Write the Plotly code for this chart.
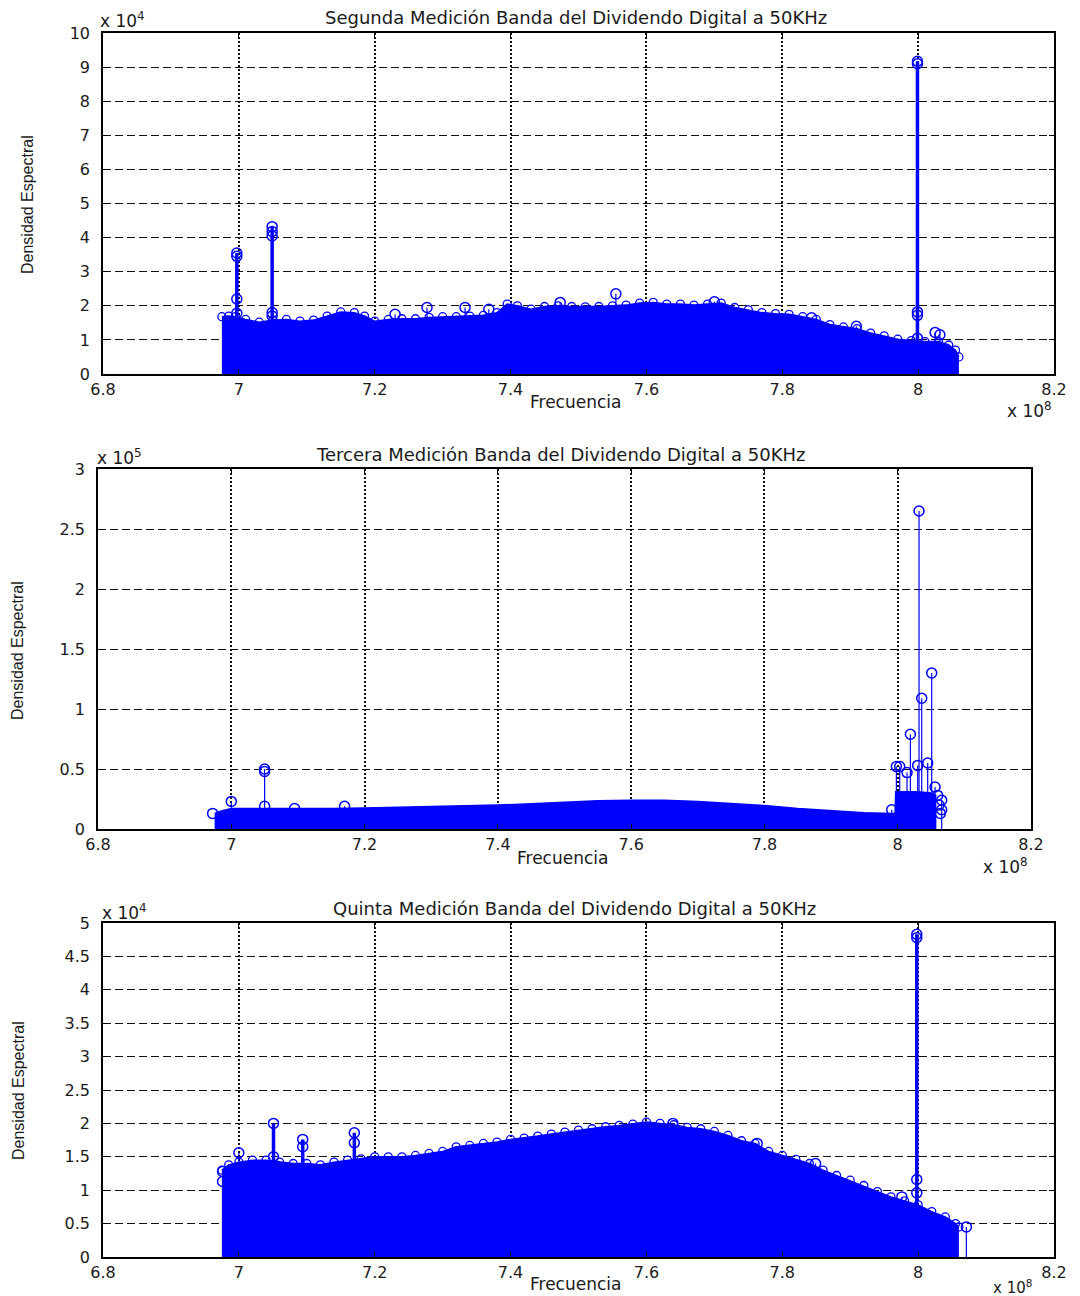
import plotly.graph_objects as go

BLUE = "#0000ff"
W, H = 1080, 1296

# ---------------- Data (frequency in units of 1e8 Hz) ----------------
# Panel 1: Segunda Medición (density in units of 1e4)
p1_freq = [6.975, 6.985, 6.995, 7.01, 7.03, 7.05, 7.07, 7.09, 7.11, 7.13, 7.15, 7.17, 7.185,
           7.2, 7.22, 7.24, 7.26, 7.28, 7.30, 7.32, 7.34, 7.36, 7.38, 7.395, 7.41, 7.43, 7.45,
           7.47, 7.49, 7.51, 7.53, 7.55, 7.57, 7.59, 7.61, 7.63, 7.65, 7.67, 7.69, 7.71, 7.73,
           7.75, 7.77, 7.79, 7.81, 7.83, 7.85, 7.87, 7.89, 7.91, 7.93, 7.95, 7.97, 7.99, 8.01,
           8.03, 8.045, 8.055, 8.06]
p1_dens = [1.68, 1.70, 1.68, 1.60, 1.52, 1.58, 1.60, 1.55, 1.58, 1.70, 1.82, 1.80, 1.70,
           1.55, 1.60, 1.62, 1.62, 1.66, 1.68, 1.68, 1.70, 1.72, 1.80, 2.05, 2.00, 1.90, 1.98,
           2.00, 1.98, 1.97, 1.98, 2.00, 2.02, 2.08, 2.10, 2.05, 2.05, 2.02, 2.05, 2.08, 1.95,
           1.88, 1.80, 1.77, 1.75, 1.68, 1.60, 1.45, 1.38, 1.33, 1.20, 1.12, 1.02, 0.98, 0.95,
           0.95, 0.85, 0.70, 0.50]
p1_major_freq = [6.997, 7.049, 7.999]
p1_major_peak = [3.55, 4.32, 9.17]
p1_minor_freq = [7.23, 7.277, 7.333, 7.368, 7.473, 7.555, 7.70, 7.843, 7.909, 8.025, 8.032]
p1_minor_peak = [1.75, 1.95, 1.95, 1.90, 2.10, 2.35, 2.12, 1.65, 1.40, 1.22, 1.15]
p1_extra_freq = [6.997, 6.997, 6.997, 7.049, 7.049, 7.049, 7.049, 7.999, 7.999, 7.999, 7.999]
p1_extra_val = [3.45, 2.20, 1.78, 4.18, 4.05, 1.80, 1.70, 9.10, 1.82, 1.72, 1.05]

# Panel 2: Tercera Medición (density in units of 1e5)
p2_freq = [6.975, 6.985, 7.0, 7.05, 7.1, 7.15, 7.2, 7.25, 7.3, 7.35, 7.4, 7.45, 7.5, 7.55,
           7.6, 7.65, 7.7, 7.75, 7.78, 7.8, 7.85, 7.9, 7.95, 7.99, 7.996, 7.997, 8.01, 8.03,
           8.05, 8.058]
p2_dens = [0.13, 0.15, 0.17, 0.17, 0.165, 0.17, 0.175, 0.18, 0.185, 0.19, 0.20, 0.21, 0.225,
           0.235, 0.24, 0.24, 0.23, 0.215, 0.20, 0.195, 0.17, 0.155, 0.135, 0.13, 0.13, 0.31,
           0.31, 0.31, 0.30, 0.28]
p2_major_freq = [7.05, 8.019, 8.032, 8.036, 8.051]
p2_major_peak = [0.50, 0.79, 2.65, 1.09, 1.30]
p2_minor_freq = [7.0, 7.095, 7.17, 7.991, 7.998, 8.003, 8.014, 8.03, 8.045, 8.056, 8.066]
p2_minor_peak = [0.23, 0.17, 0.19, 0.16, 0.52, 0.52, 0.47, 0.53, 0.55, 0.35, 0.24]
p2_extra_freq = [7.05, 7.05, 8.066, 8.060, 8.062, 8.064, 6.972]
p2_extra_val = [0.48, 0.19, 0.16, 0.28, 0.20, 0.13, 0.13]

# Panel 3: Quinta Medición (density in units of 1e4)
p3_freq = [6.975, 6.985, 7.0, 7.02, 7.04, 7.06, 7.08, 7.1, 7.12, 7.14, 7.16, 7.18, 7.2, 7.22,
           7.24, 7.26, 7.28, 7.30, 7.32, 7.34, 7.36, 7.38, 7.40, 7.42, 7.44, 7.46, 7.48, 7.50,
           7.52, 7.54, 7.56, 7.58, 7.60, 7.62, 7.64, 7.66, 7.68, 7.70, 7.72, 7.74, 7.76, 7.78,
           7.80, 7.82, 7.84, 7.86, 7.88, 7.90, 7.92, 7.94, 7.96, 7.98, 8.0, 8.02, 8.04, 8.055,
           8.06]
p3_dens = [1.30, 1.38, 1.42, 1.45, 1.45, 1.42, 1.40, 1.40, 1.38, 1.42, 1.45, 1.47, 1.50, 1.50,
           1.50, 1.52, 1.55, 1.58, 1.65, 1.67, 1.70, 1.72, 1.76, 1.78, 1.81, 1.84, 1.87, 1.90,
           1.92, 1.95, 1.97, 1.99, 2.02, 2.00, 1.98, 1.94, 1.92, 1.88, 1.82, 1.74, 1.70, 1.58,
           1.52, 1.46, 1.40, 1.30, 1.22, 1.15, 1.07, 0.98, 0.90, 0.84, 0.78, 0.68, 0.60, 0.50,
           0.45]
p3_major_freq = [7.051, 7.094, 7.17, 7.998]
p3_major_peak = [2.00, 1.76, 1.86, 4.83]
p3_minor_freq = [7.0, 7.639, 7.763, 7.849, 7.976, 8.071]
p3_minor_peak = [1.56, 2.00, 1.70, 1.40, 0.90, 0.45]
p3_extra_freq = [7.051, 7.094, 7.17, 7.998, 7.998, 7.998, 6.976, 6.976]
p3_extra_val = [1.50, 1.65, 1.71, 4.78, 1.16, 0.96, 1.28, 1.13]

x_ticks = [6.8, 7.0, 7.2, 7.4, 7.6, 7.8, 8.0, 8.2]
x_ticktext = ["6.8", "7", "7.2", "7.4", "7.6", "7.8", "8", "8.2"]
p1_yticks = [0, 1, 2, 3, 4, 5, 6, 7, 8, 9, 10]
p1_yticktext = ["0", "1", "2", "3", "4", "5", "6", "7", "8", "9", "10"]
p2_yticks = [0, 0.5, 1, 1.5, 2, 2.5, 3]
p2_yticktext = ["0", "0.5", "1", "1.5", "2", "2.5", "3"]
p3_yticks = [0, 0.5, 1, 1.5, 2, 2.5, 3, 3.5, 4, 4.5, 5]
p3_yticktext = ["0", "0.5", "1", "1.5", "2", "2.5", "3", "3.5", "4", "4.5", "5"]

titles = ["Segunda Medición Banda del Dividendo Digital a 50KHz",
          "Tercera Medición Banda del Dividendo Digital a 50KHz",
          "Quinta Medición Banda del Dividendo Digital a 50KHz"]
y_exponents = ["4", "5", "4"]
x_label = "Frecuencia"
y_label = "Densidad Espectral"

# ---------------- Layout geometry (pixels) ----------------
boxes = [  # left, right, top, bottom
    (103, 1054, 33, 374),
    (98, 1031, 469, 829),
    (103, 1054, 923, 1257),
]
env_marker_size = [8, 0, 8]


def px(x):
    return x / W


def py(y):
    return 1 - y / H


def stems(freqs, peaks):
    xs, ys = [], []
    for f, p in zip(freqs, peaks):
        xs += [f, f, None]
        ys += [0, p, None]
    return xs, ys


fig = go.Figure()

panels = [
    (p1_freq, p1_dens, p1_major_freq, p1_major_peak, p1_minor_freq, p1_minor_peak,
     p1_extra_freq, p1_extra_val, 3.5),
    (p2_freq, p2_dens, p2_major_freq, p2_major_peak, p2_minor_freq, p2_minor_peak,
     p2_extra_freq, p2_extra_val, 1.2),
    (p3_freq, p3_dens, p3_major_freq, p3_major_peak, p3_minor_freq, p3_minor_peak,
     p3_extra_freq, p3_extra_val, 3.5),
]

for i, (ef, ed, mf, mp, nf, npk, xf, xv, mw) in enumerate(panels):
    xa = "x" if i == 0 else f"x{i+1}"
    ya = "y" if i == 0 else f"y{i+1}"
    # dense stem body
    fig.add_trace(go.Scatter(x=ef, y=ed, mode="lines", fill="tozeroy", fillcolor=BLUE,
                             line=dict(color=BLUE, width=1.5), xaxis=xa, yaxis=ya,
                             showlegend=False, hoverinfo="skip"))
    if env_marker_size[i] > 0:
        fig.add_trace(go.Scatter(x=ef, y=ed, mode="markers",
                                 marker=dict(symbol="circle-open", size=env_marker_size[i],
                                             color=BLUE, line=dict(width=1.3, color=BLUE)),
                                 xaxis=xa, yaxis=ya, showlegend=False, hoverinfo="skip"))
    # minor stems
    sx, sy = stems(nf, npk)
    fig.add_trace(go.Scatter(x=sx, y=sy, mode="lines", line=dict(color=BLUE, width=1.2),
                             xaxis=xa, yaxis=ya, showlegend=False, hoverinfo="skip"))
    # major stems
    sx, sy = stems(mf, mp)
    fig.add_trace(go.Scatter(x=sx, y=sy, mode="lines", line=dict(color=BLUE, width=mw),
                             xaxis=xa, yaxis=ya, showlegend=False, hoverinfo="skip"))
    # stem head markers
    fig.add_trace(go.Scatter(x=list(mf) + list(nf) + list(xf), y=list(mp) + list(npk) + list(xv),
                             mode="markers",
                             marker=dict(symbol="circle-open", size=10, color=BLUE,
                                         line=dict(width=1.5, color=BLUE)),
                             xaxis=xa, yaxis=ya, showlegend=False, hoverinfo="skip"))

tick_font = dict(family="DejaVu Sans, Arial, sans-serif", size=16, color="#1a1a1a")
ytick_sets = [(p1_yticks, p1_yticktext, [0, 10]),
              (p2_yticks, p2_yticktext, [0, 3]),
              (p3_yticks, p3_yticktext, [0, 5])]

layout = dict(width=W, height=H, margin=dict(l=0, r=0, t=0, b=0, autoexpand=False),
              paper_bgcolor="white", plot_bgcolor="white", showlegend=False)

for i, (l, r, t, b) in enumerate(boxes):
    xk = "xaxis" if i == 0 else f"xaxis{i+1}"
    yk = "yaxis" if i == 0 else f"yaxis{i+1}"
    ya = "y" if i == 0 else f"y{i+1}"
    xa = "x" if i == 0 else f"x{i+1}"
    tv, tt, yr = ytick_sets[i]
    layout[xk] = dict(domain=[px(l), px(r)], anchor=ya, range=[6.8, 8.2], automargin=False,
                      tickvals=x_ticks, ticktext=x_ticktext, tickfont=tick_font,
                      ticks="inside", ticklen=5, tickcolor="black",
                      showline=True, linecolor="black", linewidth=1.5, mirror="ticks",
                      showgrid=True, gridcolor="#111111", gridwidth=2, griddash="2px,2px",
                      zeroline=False, ticklabelstandoff=0)
    layout[yk] = dict(domain=[py(b), py(t)], anchor=xa, range=yr, automargin=False,
                      tickvals=tv, ticktext=tt, tickfont=tick_font,
                      ticks="inside", ticklen=5, tickcolor="black",
                      showline=True, linecolor="black", linewidth=1.5, mirror="ticks",
                      showgrid=True, gridcolor="#111111", gridwidth=1.2, griddash="8px,4px",
                      zeroline=False, ticklabelstandoff=8)

fig.update_layout(**layout)

ann_font = dict(family="DejaVu Sans, Arial, sans-serif", size=17, color="#1a1a1a")
ylab_font = dict(family="Liberation Sans Narrow, Liberation Sans, Arial, sans-serif",
                 size=16, color="#1a1a1a")
title_pos = [(576, 18), (561, 454), (574, 909)]
yexp_pos = [(98, 20), (95, 457), (100, 912)]
xlab_pos = [(575, 402), (562, 858), (575, 1284)]
xexp_pos = [(1054, 410), (1030, 866), (1034, 1287)]
xexp_size = [17, 17, 15]
ylab_pos = [(28, 205), (18, 651), (18, 1091)]

annotations = []
for i in range(3):
    annotations.append(dict(text=titles[i], x=px(title_pos[i][0]), y=py(title_pos[i][1]),
                            xref="paper", yref="paper", xanchor="center", yanchor="middle",
                            showarrow=False, font=dict(ann_font, size=18)))
    annotations.append(dict(text="x 10<sup>" + y_exponents[i] + "</sup>",
                            x=px(yexp_pos[i][0]), y=py(yexp_pos[i][1]),
                            xref="paper", yref="paper", xanchor="left", yanchor="middle",
                            showarrow=False, font=ann_font))
    annotations.append(dict(text=x_label, x=px(xlab_pos[i][0]), y=py(xlab_pos[i][1]),
                            xref="paper", yref="paper", xanchor="center", yanchor="middle",
                            showarrow=False, font=ann_font))
    annotations.append(dict(text="x 10<sup>8</sup>", x=px(xexp_pos[i][0]), y=py(xexp_pos[i][1]),
                            xref="paper", yref="paper", xanchor="right", yanchor="middle",
                            showarrow=False, font=dict(ann_font, size=xexp_size[i])))
    annotations.append(dict(text=y_label, x=px(ylab_pos[i][0]), y=py(ylab_pos[i][1]),
                            xref="paper", yref="paper", xanchor="center", yanchor="middle",
                            textangle=-90, showarrow=False, font=ylab_font))

fig.update_layout(annotations=annotations)
fig.write_html("out.html")
